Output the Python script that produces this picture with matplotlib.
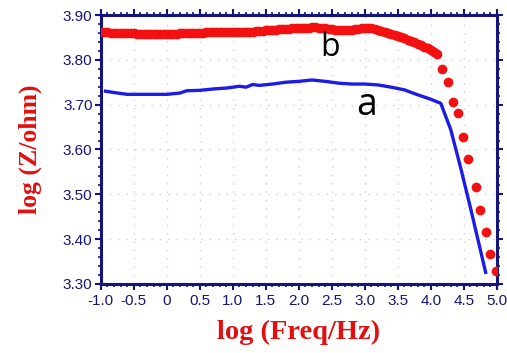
import matplotlib
matplotlib.use('Agg')
import matplotlib.pyplot as plt
from matplotlib.ticker import MultipleLocator

# curve b (red dots): log frequency vs log |Z|
b_freq = [-1.0, -0.95, -0.9, -0.85, -0.8, -0.75, -0.7, -0.65, -0.6, -0.55,
          -0.5, -0.45, -0.4, -0.35, -0.3, -0.25, -0.2, -0.15, -0.1, -0.05,
          0.0, 0.05, 0.1, 0.15, 0.2, 0.25, 0.3, 0.35, 0.4, 0.45,
          0.5, 0.55, 0.6, 0.65, 0.7, 0.75, 0.8, 0.85, 0.9, 0.95,
          1.0, 1.05, 1.1, 1.15, 1.2, 1.25, 1.3, 1.35, 1.4, 1.45,
          1.5, 1.55, 1.6, 1.65, 1.7, 1.75, 1.8, 1.85, 1.9, 1.95,
          2.0, 2.05, 2.1, 2.15, 2.2, 2.25, 2.3, 2.35, 2.4, 2.45,
          2.5, 2.55, 2.6, 2.65, 2.7, 2.75, 2.8, 2.85, 2.9, 2.95,
          3.0, 3.05, 3.1, 3.15, 3.2, 3.25, 3.3, 3.35, 3.4, 3.45,
          3.5, 3.55, 3.6, 3.65, 3.7, 3.75, 3.8, 3.85, 3.9, 3.95,
          4.0, 4.05, 4.1,
          4.17, 4.26, 4.33, 4.41, 4.48, 4.56, 4.68, 4.74, 4.83, 4.89, 4.98]
b_logz = [3.862, 3.862, 3.861, 3.860, 3.860, 3.860, 3.860, 3.859, 3.859, 3.859,
          3.859, 3.858, 3.858, 3.858, 3.858, 3.858, 3.858, 3.858, 3.858, 3.858,
          3.858, 3.858, 3.858, 3.858, 3.859, 3.859, 3.859, 3.859, 3.859, 3.860,
          3.860, 3.860, 3.861, 3.861, 3.861, 3.862, 3.862, 3.862, 3.862, 3.862,
          3.862, 3.862, 3.863, 3.863, 3.862, 3.862, 3.863, 3.864, 3.865, 3.865,
          3.866, 3.866, 3.867, 3.867, 3.868, 3.868, 3.869, 3.869, 3.870, 3.870,
          3.871, 3.871, 3.872, 3.872, 3.873, 3.873, 3.872, 3.871, 3.870, 3.869,
          3.868, 3.867, 3.866, 3.866, 3.866, 3.866, 3.867, 3.868, 3.869, 3.870,
          3.870, 3.871, 3.870, 3.869, 3.867, 3.865, 3.862, 3.860, 3.858, 3.856,
          3.853, 3.851, 3.848, 3.845, 3.842, 3.839, 3.836, 3.833, 3.829, 3.826,
          3.822, 3.818, 3.812,
          3.779, 3.750, 3.706, 3.681, 3.627, 3.578, 3.516, 3.466, 3.415, 3.368, 3.328]

# curve a (blue line)
a_freq = [-0.93, -0.8, -0.6, -0.4, -0.2, 0.0, 0.2, 0.3, 0.5, 0.7,
          0.9, 1.1, 1.2, 1.3, 1.4, 1.6, 1.8, 2.0, 2.2, 2.4,
          2.6, 2.8, 3.0, 3.2, 3.4, 3.6, 3.8, 4.0, 4.15, 4.3,
          4.45, 4.6, 4.83]
a_logz = [3.730, 3.727, 3.723, 3.723, 3.723, 3.723, 3.726, 3.731, 3.732, 3.735,
          3.737, 3.741, 3.739, 3.745, 3.743, 3.746, 3.750, 3.752, 3.755, 3.752,
          3.748, 3.746, 3.746, 3.744, 3.739, 3.733, 3.722, 3.712, 3.703, 3.645,
          3.560, 3.470, 3.326]

x_ticks = [-1.0, -0.5, 0.0, 0.5, 1.0, 1.5, 2.0, 2.5, 3.0, 3.5, 4.0, 4.5, 5.0]
x_labels = ['-1.0', '-0.5', '0', '0.5', '1.0', '1.5', '2.0', '2.5',
            '3.0', '3.5', '4.0', '4.5', '5.0']
y_ticks = [3.30, 3.40, 3.50, 3.60, 3.70, 3.80, 3.90]

navy = '#14147a'

fig = plt.figure(figsize=(5.07, 3.53), dpi=100)
ax = fig.add_axes([0.199, 0.1955, 0.781, 0.762])

ax.plot(b_freq, b_logz, 'o', color='#f21010', markersize=7, markeredgewidth=0, zorder=3)
ax.plot(a_freq, a_logz, '-', color='#1c1ce6', linewidth=2.4, zorder=4)

ax.text(2.47, 3.828, 'b', fontsize=23, color='black', ha='center', va='center', family='Open Sans')
ax.text(3.03, 3.700, 'a', fontsize=27, color='black', ha='center', va='center', family='Open Sans')

ax.set_xlim(-1.0, 5.0)
ax.set_ylim(3.30, 3.90)
ax.set_xticks(x_ticks)
ax.set_xticklabels(x_labels)
ax.set_yticks(y_ticks)
ax.set_yticklabels(['%.2f' % v for v in y_ticks])
ax.xaxis.set_minor_locator(MultipleLocator(0.1))
ax.yaxis.set_minor_locator(MultipleLocator(0.02))

ax.tick_params(which='both', direction='out', color=navy, top=True, right=True,
               labelcolor=navy, labelsize=11)
ax.tick_params(which='major', length=4, width=1.5)
ax.tick_params(which='minor', length=2.5, width=1.2)
ax.tick_params(axis='y', pad=2)
ax.tick_params(axis='x', pad=3)
for lab in ax.get_xticklabels() + ax.get_yticklabels():
    lab.set_family('Liberation Sans')

for s in ax.spines.values():
    s.set_color(navy)
    s.set_linewidth(2.2)

ax.grid(True, which='major', color='#d0d0d0', linestyle=(0, (1, 5)), linewidth=1)
ax.set_axisbelow(True)

ax.set_xlabel('log (Freq/Hz)', family='Liberation Serif', fontweight='bold',
              fontsize=20.5, color='#e01010', labelpad=9)
ax.set_ylabel('log (Z/ohm)', family='Liberation Serif', fontweight='bold',
              fontsize=18.5, color='#e01010', labelpad=15)

fig.savefig('out.png', dpi=100)
